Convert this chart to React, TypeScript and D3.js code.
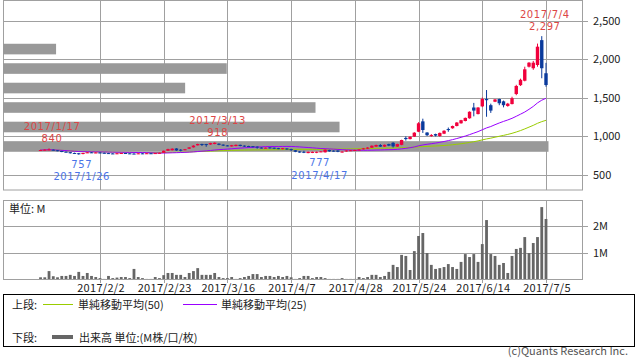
import React from "react";
import * as d3 from "d3";

const opens = [812,815,818,822,815,805,796,790,780,776,766,782,788,785,786,782,778,774,768,772,779,775,772,768,775,771,776,772,777,782,808,815,838,822,820,835,853,879,896,895,890,896,900,888,878,865,870,885,875,870,868,862,850,845,852,848,842,830,838,830,815,800,795,778,780,782,795,788,818,810,812,790,800,810,812,815,828,835,848,862,883,862,895,912,862,885,975,960,992,1056,1190,1045,1005,1025,1000,1030,1090,1100,1130,1165,1195,1230,1370,1285,1385,1480,1400,1445,1480,1450,1390,1415,1545,1660,1718,1900,1880,1922,2245,1815];
const highs = [822,830,840,826,818,808,800,792,784,780,782,792,792,790,790,786,782,778,780,782,782,778,776,778,778,780,779,782,786,812,835,840,842,830,832,855,880,900,900,898,912,918,905,892,882,884,890,888,878,874,870,866,854,852,855,850,846,846,842,835,818,804,808,798,798,798,805,828,822,814,815,802,815,818,822,828,845,855,878,888,895,890,900,920,900,952,995,995,1050,1180,1225,1050,1025,1030,1045,1075,1110,1135,1180,1210,1240,1320,1430,1375,1500,1597,1420,1480,1485,1460,1430,1510,1665,1745,1900,1960,1975,2200,2297,1950];
const lows = [808,812,815,812,802,790,786,772,766,757,762,778,782,780,778,774,768,766,764,768,770,768,764,765,768,768,768,770,774,780,805,812,808,800,815,832,850,876,870,860,886,893,880,870,866,862,866,866,858,856,852,835,838,840,836,830,828,826,820,805,790,782,778,776,778,777,790,785,796,796,790,785,796,806,808,812,824,832,845,858,858,858,868,850,858,880,940,955,988,1050,1040,1000,990,995,990,1025,1055,1095,1125,1160,1190,1225,1255,1280,1375,1250,1300,1440,1400,1372,1380,1410,1530,1650,1710,1890,1860,1900,1750,1640];
const closes = [818,822,825,815,808,795,788,776,770,764,779,788,785,786,782,778,772,770,776,779,774,772,768,775,771,776,772,778,782,808,830,835,812,818,828,852,875,896,885,890,908,912,885,875,872,880,885,870,862,860,858,855,842,848,840,835,832,842,825,820,795,785,790,795,795,795,800,822,800,800,795,798,812,815,818,825,840,850,874,883,862,885,875,865,895,948,960,990,1043,1165,1078,1010,1012,1005,1040,1068,1082,1130,1175,1205,1235,1315,1330,1370,1480,1465,1330,1475,1425,1400,1420,1490,1650,1730,1866,1952,1952,2160,1880,1662];
const volumes = [0.10,0.10,0.33,0.14,0.10,0.15,0.15,0.19,0.15,0.30,0.15,0.26,0.15,0.11,0.07,0.04,0.15,0.07,0.09,0.11,0.11,0.07,0.41,0.11,0.07,0.04,0.04,0.11,0.07,
  0.18,0.26,0.26,0.19,0.19,0.11,0.26,0.33,0.44,0.19,0.19,0.19,0.26,0.11,0.07,0.07,0.11,0.04,0.07,0.11,0.15,0.22,0.22,0.11,0.15,0.15,0.11,0.15,0.11,0.15,
  0.10,0.04,0.07,0.15,0.15,0.07,0.11,0.11,0.07,0.04,0.04,0.04,0.07,0.04,0.04,0.04,0.11,0.07,0.11,0.19,0.19,0.11,0.15,0.30,0.56,0.48,0.93,0.89,0.37,1.07,
  1.63,1.74,1.00,0.56,0.41,0.44,0.48,0.59,0.48,0.41,0.67,0.96,0.85,0.96,0.67,1.33,2.22,0.96,0.89,0.56,0.63,0.26,0.89,1.15,1.19,1.59,1.00,1.37,1.59,2.70,2.26];

const tickLabels = ["2017/2/2","2017/2/23","2017/3/16","2017/4/7","2017/4/28","2017/5/24","2017/6/14","2017/7/5"];
const tickIndex = [14,29,44,59,74,89,104,119];
const priceTicks = [500,1000,1500,2000,2500];
const volumeTicks = [1,2];
const vpPrices = [864,1117,1370,1623,1876,2129];
const vpVolumes = [29.5,18.2,16.9,9.85,12.1,2.87];
const annotations = [
  { index: 2, kind: "high", date: "2017/1/17" },
  { index: 9, kind: "low", date: "2017/1/26" },
  { index: 41, kind: "high", date: "2017/3/13" },
  { index: 65, kind: "low", date: "2017/4/17" },
  { index: 118, kind: "high", date: "2017/7/4" },
];

const FONT = "'Noto Sans CJK JP', 'Noto Sans', sans-serif";
const ANNO_FONT = "'DejaVu Sans', sans-serif";
const GRID = "#a0a0a0";
const UP = "#f0003c";
const DOWN = "#0a3a9c";

function movingAverage(n: number) {
  return closes.map((_, i) => d3.mean(closes.slice(Math.max(0, i - n + 1), i + 1)) as number);
}

export default function App() {
  const L = 3, R = 582, PT = 1, PB = 190, VT = 201, VB = 280;
  const x = d3.scaleLinear().domain([14, 119]).range([100, 546]);
  const y = d3.scaleLinear().domain([500, 2500]).range([174.5, 20.5]);
  const yv = d3.scaleLinear().domain([0, 1]).range([VB, VB - 27]);
  const xvp = d3.scaleLinear().domain([0, 29.5]).range([0, 545.5]);
  const fmt = d3.format(",");
  const idx = d3.range(closes.length);
  const ma25 = movingAverage(25);
  const ma50 = movingAverage(50);
  const line = (arr: number[]) =>
    d3.line<number>().x((i) => x(i)).y((i) => y(arr[i]))(idx) as string;
  const cw = 3.4;
  const c = (v: number) => Math.round(v) + 0.5;

  return (
    <svg width={638} height={362} style={{ position: "absolute", left: 0, top: 0, background: "#fff" }} fontFamily={FONT}>
      <rect x={0} y={0} width={638} height={362} fill="#fff" />
      {priceTicks.map((p) => (
        <g key={"pt" + p}>
          <line x1={L} x2={588} y1={c(y(p))} y2={c(y(p))} stroke={GRID} />
          <text x={593} y={y(p) + 4} fontSize={11} fill="#222">{fmt(p)}</text>
        </g>
      ))}
      {tickIndex.map((t) => (
        <line key={"vg" + t} x1={c(x(t))} x2={c(x(t))} y1={PT} y2={PB} stroke={GRID} />
      ))}
      <rect x={L + 0.5} y={PT - 0.5} width={R - L} height={PB - PT + 0.5} fill="none" stroke={GRID} />
      {vpPrices.map((p, k) => (
        <rect key={"vp" + k} x={L} y={y(p) - 5.3} width={xvp(vpVolumes[k])} height={10.6} fill="#999999" />
      ))}
      <path d={line(ma50)} fill="none" stroke="#99cc00" strokeWidth={1} />
      <path d={line(ma25)} fill="none" stroke="#9900ff" strokeWidth={1} />
      {idx.map((i) => {
        const up = closes[i] >= opens[i];
        const col = up ? UP : DOWN;
        const top = y(Math.max(opens[i], closes[i]));
        const bot = y(Math.min(opens[i], closes[i]));
        return (
          <g key={"c" + i}>
            <rect x={x(i) - 0.5} y={y(highs[i])} width={1} height={Math.max(1, y(lows[i]) - y(highs[i]))} fill={col} />
            <rect x={x(i) - cw / 2} y={top} width={cw} height={Math.max(1, bot - top)} fill={col} />
          </g>
        );
      })}
      {annotations.map((a, k) => {
        const ax = x(a.index) + 3;
        if (a.kind === "high") {
          const yy = y(highs[a.index]);
          return (
            <g key={"a" + k} fill="#dc4646" fontSize={10} fontFamily={ANNO_FONT} textAnchor="middle" letterSpacing={0.6}>
              <text x={ax} y={yy - 18.5}>{a.date}</text>
              <text x={ax} y={yy - 6}>{fmt(highs[a.index])}</text>
            </g>
          );
        }
        const yy = y(lows[a.index]);
        return (
          <g key={"a" + k} fill="#4a74e8" fontSize={10} fontFamily={ANNO_FONT} textAnchor="middle" letterSpacing={0.6}>
            <text x={ax} y={yy + 13}>{fmt(lows[a.index])}</text>
            <text x={ax} y={yy + 25.5}>{a.date}</text>
          </g>
        );
      })}
      {volumeTicks.map((v) => (
        <g key={"vt" + v}>
          <line x1={L} x2={588} y1={c(yv(v))} y2={c(yv(v))} stroke={GRID} />
          <text x={593} y={yv(v) + 4} fontSize={11} fill="#222">{v + "M"}</text>
        </g>
      ))}
      {tickIndex.map((t) => (
        <line key={"vv" + t} x1={c(x(t))} x2={c(x(t))} y1={VT} y2={VB + 3} stroke={GRID} />
      ))}
      {idx.map((i) => (
        <rect key={"v" + i} x={x(i) - 1.4} y={yv(volumes[i])} width={2.8} height={VB - yv(volumes[i])} fill="#666666" />
      ))}
      <rect x={L + 0.5} y={VT - 0.5} width={R - L} height={VB - VT} fill="none" stroke={GRID} />
      <text x={9} y={213} fontSize={11} fill="#222">単位: M</text>
      {tickLabels.map((t, k) => (
        <text key={"xl" + k} x={x(tickIndex[k]) + 1} y={292} fontSize={11} fill="#222" textAnchor="middle" letterSpacing={0.3}>{t}</text>
      ))}
      <rect x={3.5} y={294.5} width={631} height={52} fill="none" stroke="#000" />
      <text x={12} y={309} fontSize={11} fill="#222">上段:</text>
      <line x1={43} x2={73} y1={304.5} y2={304.5} stroke="#99cc00" />
      <text x={78} y={309} fontSize={11} fill="#222">単純移動平均(50)</text>
      <line x1={183} x2={217} y1={304.5} y2={304.5} stroke="#9900ff" />
      <text x={221} y={309} fontSize={11} fill="#222">単純移動平均(25)</text>
      <text x={12} y={342} fontSize={11} fill="#222">下段:</text>
      <rect x={52} y={335} width={21} height={4} fill="#666666" />
      <text x={79} y={342} fontSize={11} fill="#222">出来高 単位:(M株/口/枚)</text>
      <text x={628} y={355} fontSize={11} fill="#555" textAnchor="end">(c)Quants Research Inc.</text>
    </svg>
  );
}
